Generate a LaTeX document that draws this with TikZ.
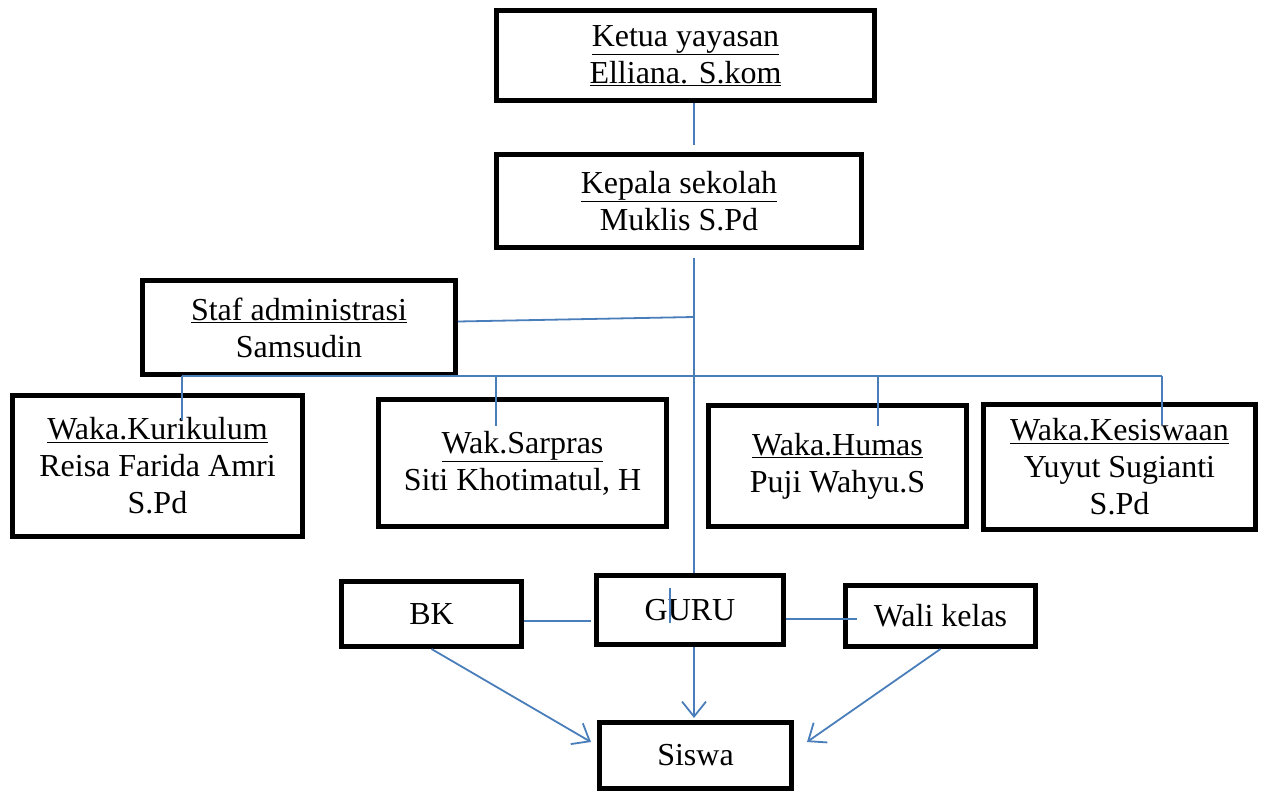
\documentclass[tikz,border=0pt]{standalone}
\usepackage{fontspec}
\setmainfont{Liberation Serif}
\usetikzlibrary{arrows.meta}
\definecolor{linkblue}{RGB}{74,126,187}

\begin{document}
\begin{tikzpicture}[x=1pt, y=1pt, font=\fontsize{32}{37}\selectfont,
  box/.style={draw, line width=5pt, align=center, inner sep=0pt},
  link/.style={draw=linkblue, line width=1.8pt},
  arr/.style={link, -{Straight Barb[length=15pt,width=24pt]}}]
  \useasboundingbox (0,0) rectangle (1262,-792);

  % boxes
  \node[box, minimum width=378pt, minimum height=90pt] (ketua) at (685.5,-55.5) {\underline{Ketua yayasan}\\\underline{Elliana. S.kom}};
  \node[box, minimum width=365pt, minimum height=93pt] (kepala) at (679,-201) {\underline{Kepala sekolah}\\Muklis S.Pd};
  \node[box, minimum width=313pt, minimum height=94pt] (staf) at (299,-327.5) {\underline{Staf administrasi}\\Samsudin};
  \node[box, minimum width=290pt, minimum height=141pt] (kurikulum) at (157.5,-466) {\underline{Waka.Kurikulum}\\Reisa Farida Amri\\S.Pd};
  \node[box, minimum width=288pt, minimum height=127pt] (sarpras) at (522.5,-463) {\underline{Wak.Sarpras}\\Siti Khotimatul, H};
  \node[box, minimum width=258pt, minimum height=121pt] (humas) at (837.5,-466) {\underline{Waka.Humas}\\Puji Wahyu.S};
  \node[box, minimum width=272pt, minimum height=125pt] (kesiswaan) at (1119.5,-467) {\underline{Waka.Kesiswaan}\\Yuyut Sugianti\\S.Pd};
  \node[box, minimum width=180pt, minimum height=65pt] (bk) at (431.5,-614) {BK};
  \node[box, minimum width=187pt, minimum height=69pt] (guru) at (690,-610) {GURU};
  \node[box, minimum width=190pt, minimum height=61pt] (wali) at (940.5,-616) {Wali kelas};
  \node[box, minimum width=192pt, minimum height=66pt] (siswa) at (695.5,-755.5) {Siswa};

  % lines
  \coordinate (trunk) at (694,0);
  \coordinate (busL) at (182,-376);
  \coordinate (busS) at (496,-376);
  \coordinate (busH) at (878,-376);
  \coordinate (busR) at (1162,-376);
  \draw[link] (ketua.south -| trunk) -- ([yshift=7pt]kepala.north -| trunk);
  \draw[link] ([yshift=-8pt]kepala.south -| trunk) -- (guru.north -| trunk);
  \draw[link] ([yshift=6pt]staf.east) -- (trunk |- 0,-317);
  \draw[link] (busL) -- (busR);
  \draw[link] (busL) -- ([yshift=-27pt]kurikulum.north -| busL);
  \draw[link] (busS) -- ([yshift=-29pt]sarpras.north -| busS);
  \draw[link] (busH) -- ([yshift=-23pt]humas.north -| busH);
  \draw[link] (busR) -- ([yshift=-23pt]kesiswaan.north -| busR);
  \draw[link] ([yshift=-7pt]bk.east) -- ([xshift=-3pt,yshift=-11pt]guru.west);
  \draw[link] ([yshift=-9pt]guru.east) -- ([xshift=14pt,yshift=-3pt]wali.west);
  \draw[link] ([xshift=-20pt,yshift=22pt]guru.center) -- ([xshift=-20pt,yshift=-13pt]guru.center);

  % arrows
  \draw[arr] (bk.south) -- ([xshift=-6pt,yshift=13.5pt]siswa.west);
  \draw[arr] (guru.south -| trunk) -- ([yshift=2pt]siswa.north -| trunk);
  \draw[arr] (wali.south) -- ([xshift=13pt,yshift=13.5pt]siswa.east);
\end{tikzpicture}
\end{document}
